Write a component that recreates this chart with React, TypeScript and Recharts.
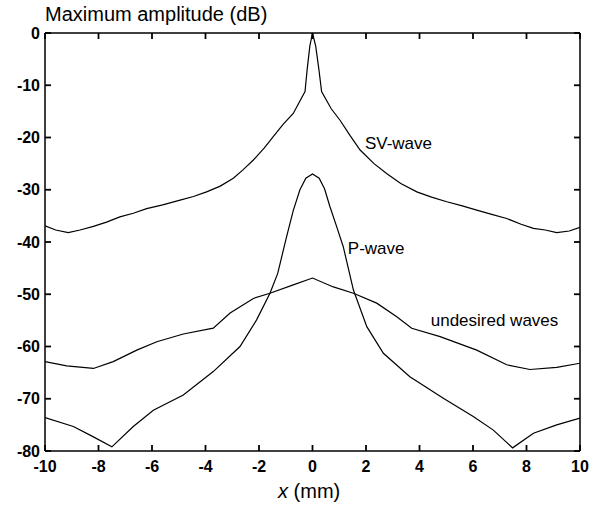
import React from 'react';
import { LineChart, Line, XAxis, YAxis, ReferenceDot, ReferenceLine } from 'recharts';

const svX = [-10, -9.6, -9.13, -8.69, -8.19, -7.7, -7.2, -6.7, -6.2, -5.6, -4.95, -4.45, -3.96, -3.45, -2.96, -2.6, -2.21, -1.8, -1.46, -1.1, -0.72, -0.28, -0.2, -0.1, 0, 0.12, 0.24, 0.34, 0.7, 1.03, 1.4, 1.78, 2.3, 2.77, 3.3, 3.9, 4.45, 5.02, 5.6, 6.14, 6.7, 7.26, 7.8, 8.26, 8.7, 9.13, 9.6, 10];
const svY = [-36.9, -37.7, -38.2, -37.7, -37.0, -36.2, -35.2, -34.5, -33.6, -32.9, -32.0, -31.3, -30.4, -29.3, -27.8, -26.2, -24.3, -22.0, -19.8, -17.5, -15.4, -11.2, -7, -2.5, 0, -2.5, -7, -11.2, -14.5, -16.7, -19.6, -22.4, -25.0, -26.9, -28.8, -30.4, -31.4, -32.3, -33.1, -33.9, -34.7, -35.5, -36.6, -37.4, -37.7, -38.2, -37.9, -37.2];

const pX = [-10, -8.94, -8.19, -7.5, -6.7, -5.95, -4.83, -3.71, -2.71, -2.09, -1.59, -1.3, -0.97, -0.72, -0.47, -0.25, 0, 0.25, 0.45, 0.65, 0.9, 1.15, 1.53, 2.03, 2.65, 3.64, 4.89, 6.01, 6.76, 7.48, 8.26, 9.13, 10];
const pY = [-73.6, -75.3, -77.3, -79.2, -75.3, -72.2, -69.3, -64.8, -60.0, -54.9, -49.8, -46, -39.0, -34, -30.0, -27.8, -27.0, -27.8, -29.8, -33.2, -37, -40.9, -49.2, -56.2, -61.3, -65.8, -69.9, -73.4, -76.0, -79.4, -76.6, -75.0, -73.7];

const uX = [-10, -9.19, -8.19, -7.45, -6.57, -5.82, -4.83, -3.71, -3.08, -2.21, -1.59, -0.72, 0, 0.78, 1.53, 2.4, 3.15, 3.71, 4.77, 6.14, 7.26, 8.13, 9.13, 10];
const uY = [-62.9, -63.7, -64.2, -62.9, -60.7, -59.1, -57.6, -56.5, -53.6, -50.8, -49.8, -48.2, -46.9, -48.6, -49.8, -51.7, -54.3, -56.5, -58.1, -60.7, -63.5, -64.4, -64.0, -63.2];

const xTicks = [-10, -8, -6, -4, -2, 0, 2, 4, 6, 8, 10];
const yTicks = [-80, -70, -60, -50, -40, -30, -20, -10, 0];
const X_DOMAIN = [-10, 10];
const Y_DOMAIN = [-80, 0];

const seriesLabels = [
  { text: 'SV-wave', x: 1.96, y: -21 },
  { text: 'P-wave', x: 1.32, y: -41.1 },
  { text: 'undesired waves', x: 4.42, y: -54.9 },
];

const toData = (xs: number[], ys: number[]) => xs.map((x, i) => ({ x, y: ys[i] }));

const W = 602;
const H = 508;
const M = { top: 33, right: 22, bottom: 0, left: 0 };
const Y_AXIS_W = 45;
const X_AXIS_H = 57;
const PLOT_W = W - M.left - M.right - Y_AXIS_W;
const PLOT_H = H - M.top - M.bottom - X_AXIS_H;
const TICK_PX = 6;
// inward tick length converted to data units
const TICK_DY = ((Y_DOMAIN[1] - Y_DOMAIN[0]) * TICK_PX) / PLOT_H;
const TICK_DX = ((X_DOMAIN[1] - X_DOMAIN[0]) * TICK_PX) / PLOT_W;

const FONT = '"Liberation Sans", Arial, sans-serif';
const axLine = { stroke: '#000', strokeWidth: 1.5 };
const tickStyle = { fontSize: 16, fontWeight: 'bold', fill: '#000', fontFamily: FONT };

export default function App() {
  const tickSegs: { key: string; seg: { x: number; y: number }[] }[] = [];
  xTicks.forEach((t) => {
    tickSegs.push({ key: `b${t}`, seg: [{ x: t, y: Y_DOMAIN[0] }, { x: t, y: Y_DOMAIN[0] + TICK_DY }] });
    tickSegs.push({ key: `t${t}`, seg: [{ x: t, y: Y_DOMAIN[1] }, { x: t, y: Y_DOMAIN[1] - TICK_DY }] });
  });
  yTicks.forEach((t) => {
    tickSegs.push({ key: `l${t}`, seg: [{ x: X_DOMAIN[0], y: t }, { x: X_DOMAIN[0] + TICK_DX, y: t }] });
    tickSegs.push({ key: `r${t}`, seg: [{ x: X_DOMAIN[1], y: t }, { x: X_DOMAIN[1] - TICK_DX, y: t }] });
  });
  return (
    <div style={{ position: 'absolute', left: 0, top: 0, width: W, height: H, background: '#fff', fontFamily: FONT }}>
      <LineChart width={W} height={H} margin={M}>
        <XAxis xAxisId={0} dataKey="x" type="number" domain={X_DOMAIN} ticks={xTicks} allowDataOverflow interval={0}
          height={X_AXIS_H} tickLine={false} tickSize={0} tickMargin={10} tick={tickStyle} axisLine={axLine} />
        <XAxis xAxisId="top" orientation="top" dataKey="x" type="number" domain={X_DOMAIN} allowDataOverflow
          height={1} mirror tick={false} tickLine={false} axisLine={axLine} />
        <YAxis yAxisId={0} type="number" domain={Y_DOMAIN} ticks={yTicks} allowDataOverflow interval={0}
          width={Y_AXIS_W} tickLine={false} tickSize={0} tickMargin={5} tick={tickStyle} axisLine={axLine} />
        <YAxis yAxisId="right" orientation="right" type="number" domain={Y_DOMAIN} allowDataOverflow
          width={1} mirror tick={false} tickLine={false} axisLine={axLine} />
        {tickSegs.map((s) => (
          <ReferenceLine key={s.key} segment={s.seg} stroke="#000" strokeWidth={1.8} ifOverflow="visible" />
        ))}
        <Line data={toData(svX, svY)} dataKey="y" type="linear" stroke="#000" strokeWidth={1.2} dot={false} isAnimationActive={false} />
        <Line data={toData(pX, pY)} dataKey="y" type="linear" stroke="#000" strokeWidth={1.2} dot={false} isAnimationActive={false} />
        <Line data={toData(uX, uY)} dataKey="y" type="linear" stroke="#000" strokeWidth={1.2} dot={false} isAnimationActive={false} />
        {seriesLabels.map((l) => (
          <ReferenceDot key={l.text} x={l.x} y={l.y} r={0} stroke="none" fill="none"
            label={{ value: l.text, position: 'right', offset: 0, fill: '#000', fontSize: 17, fontFamily: FONT }} />
        ))}
      </LineChart>
      <div style={{ position: 'absolute', left: 45, top: 4, fontSize: 20, lineHeight: '20px', color: '#000', whiteSpace: 'nowrap' }}>
        Maximum amplitude (dB)
      </div>
      <div style={{ position: 'absolute', left: 278, top: 481, fontSize: 20, lineHeight: '20px', color: '#000', whiteSpace: 'nowrap' }}>
        <i>x</i> (mm)
      </div>
    </div>
  );
}
